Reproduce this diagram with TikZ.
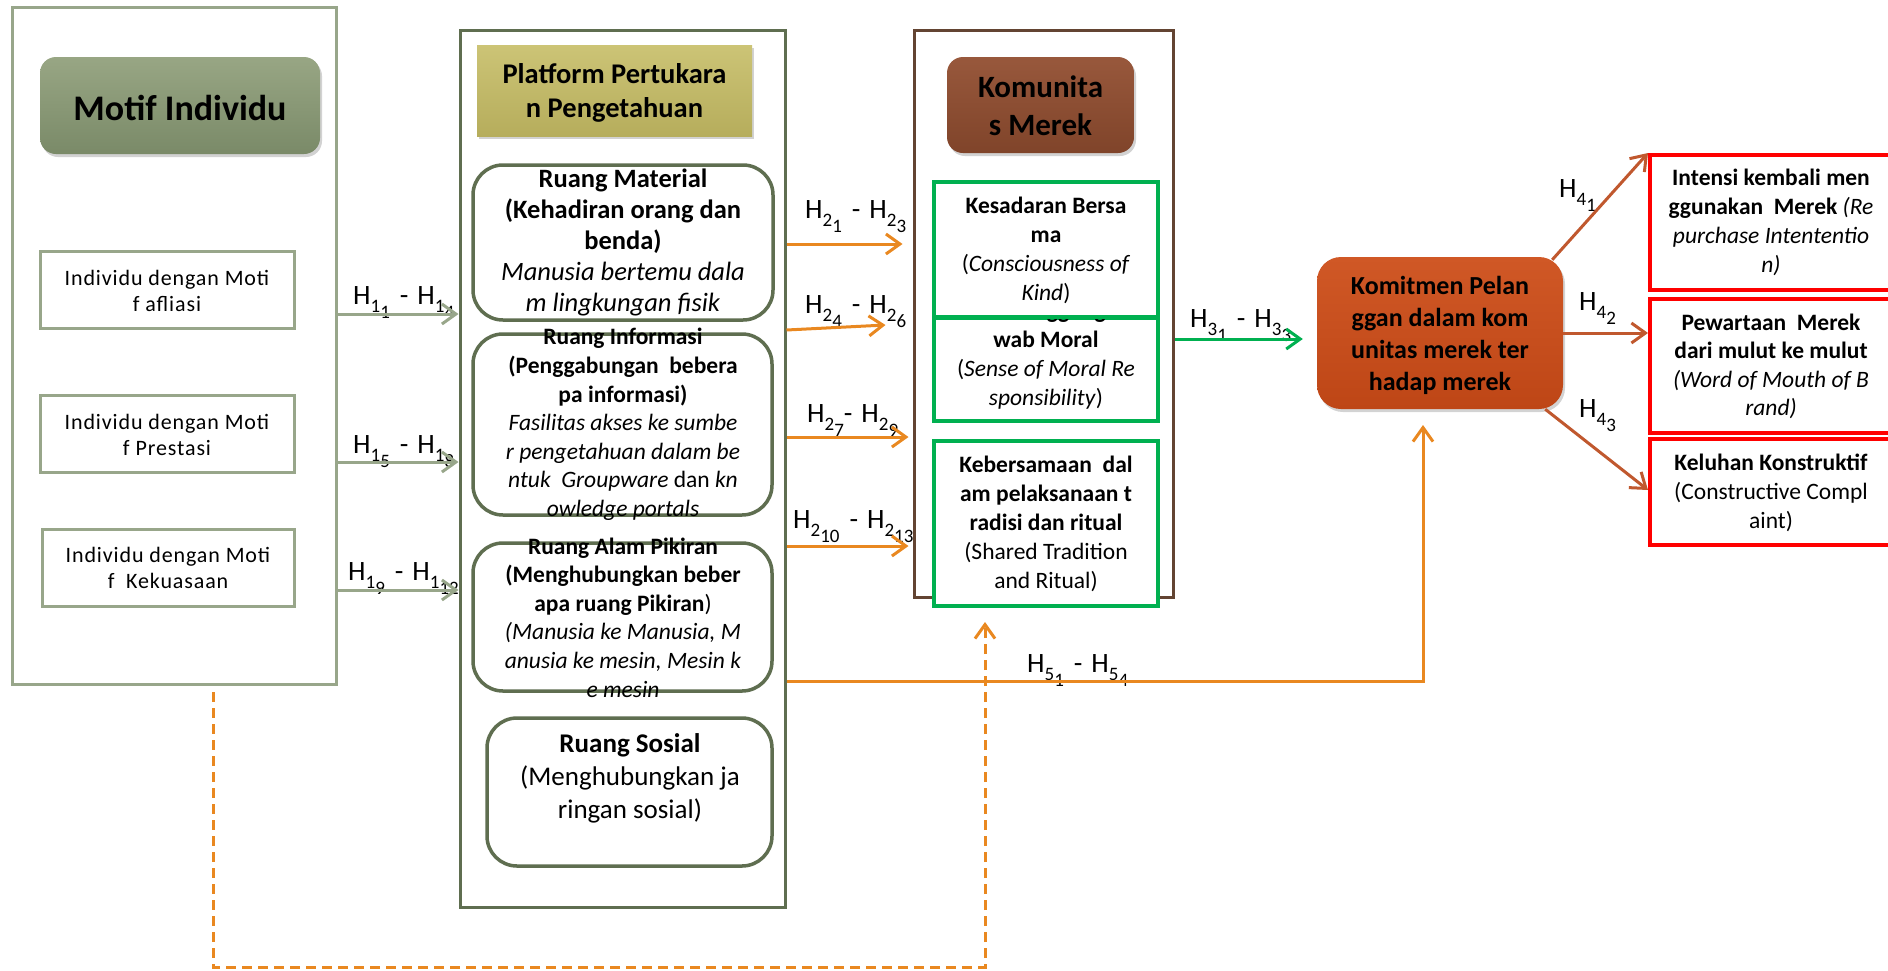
\documentclass[tikz,border=0pt]{standalone}
\usepackage{fontspec}
\setmainfont{Carlito}
\newfontfamily\wideface[LetterSpace=4]{Carlito}
\usetikzlibrary{arrows.meta,shadows}

\definecolor{sage}{RGB}{152,166,138}
\definecolor{sagehi}{RGB}{152,166,132}
\definecolor{sagelo}{RGB}{122,138,104}
\definecolor{moss}{RGB}{95,110,80}
\definecolor{olivehi}{RGB}{204,196,118}
\definecolor{olivelo}{RGB}{182,173,92}
\definecolor{bark}{RGB}{99,68,50}
\definecolor{barkhi}{RGB}{152,88,60}
\definecolor{barklo}{RGB}{128,68,42}
\definecolor{leaf}{RGB}{0,176,80}
\definecolor{rusthi}{RGB}{208,88,38}
\definecolor{rustlo}{RGB}{190,70,22}
\definecolor{rustline}{RGB}{192,88,46}
\definecolor{amber}{RGB}{233,136,32}
\definecolor{alert}{RGB}{255,0,0}

% H with a subscript and a sub-subscript
\newcommand\Hsub[2]{H\raisebox{-8pt}{\fontsize{19}{19}\selectfont#1\raisebox{-6.5pt}{#2}}}

\begin{document}
\begin{tikzpicture}[x=1pt,y=-1pt,
  plainbox/.style={draw,line width=3pt,fill=white,inner sep=0pt},
  roundbox/.style={plainbox,draw=moss,line width=3.5pt,rounded corners=30pt},
  greenbox/.style={plainbox,draw=leaf,line width=3.5pt},
  redbox/.style={plainbox,draw=alert,line width=4pt},
  headbox/.style={inner sep=0pt,drop shadow={opacity=0.35,shadow xshift=2pt,shadow yshift=-3pt}},
  txt/.style={inner sep=0pt,align=center,anchor=base},
  hlab/.style={inner sep=0pt,anchor=base west,font=\fontsize{28}{34}\selectfont},
  barbtip/.style={-{Straight Barb[length=14pt,width=20pt,line width=3pt]}},
  sagearrow/.style={barbtip,draw=sage,line width=3pt},
  amberarrow/.style={barbtip,draw=amber,line width=3pt},
  leafarrow/.style={barbtip,draw=leaf,line width=3pt},
  rustarrow/.style={barbtip,draw=rustline,line width=3pt},
  amberdash/.style={barbtip,draw=amber,line width=3pt,dash pattern=on 10pt off 6pt}
]
\useasboundingbox (0,0) rectangle (1888,970);
\clip (0,0) rectangle (1888,970);

% text nodes are placed at the baseline of their last line

% ---- individual motives column
\node[plainbox,draw=sage,minimum width=324pt,minimum height=677pt] (motifbox) at (174,345.5) {};
\node[headbox,rounded corners=16pt,minimum width=280pt,minimum height=97pt,top color=sagehi,bottom color=sagelo] (motif) at (180,105.5) {};
\node[txt,font=\fontsize{36}{43}\selectfont\bfseries] (motif-t) at (180,120) {Motif Individu};

\node[plainbox,draw=sage,minimum width=254pt,minimum height=77pt] (ind1) at (167,289.5) {};
\node[txt,font=\wideface\fontsize{22}{26}\selectfont] (ind1-t) at (167,311) {Individu dengan Moti\\f afliasi};
\node[plainbox,draw=sage,minimum width=254pt,minimum height=77pt] (ind2) at (167,433.5) {};
\node[txt,font=\wideface\fontsize{22}{26}\selectfont] (ind2-t) at (167,455) {Individu dengan Moti\\f Prestasi};
\node[plainbox,draw=sage,minimum width=252pt,minimum height=77pt] (ind3) at (168,567.5) {};
\node[txt,font=\wideface\fontsize{22}{26}\selectfont] (ind3-t) at (168,588) {Individu dengan Moti\\f\ \ Kekuasaan};

\node[hlab] (h1a) at (353,304) {\Hsub{1}{1}\hspace{10pt}-\hspace{9pt}\Hsub{1}{4}};
\node[hlab] (h1b) at (353,453) {\Hsub{1}{5}\hspace{10pt}-\hspace{9pt}\Hsub{1}{8}};
\node[hlab] (h1c) at (348,580) {\Hsub{1}{9}\hspace{10pt}-\hspace{9pt}\Hsub{1}{12}};

% ---- knowledge exchange platform
\node[plainbox,draw=moss,minimum width=325pt,minimum height=877pt] (plat) at (622.5,468.5) {};
\node[headbox,minimum width=275pt,minimum height=91pt,top color=olivehi,bottom color=olivelo] (plathead) at (614.5,90.5) {};
\node[txt,font=\fontsize{28.5}{34}\selectfont\bfseries] (plathead-t) at (614.5,117) {Platform Pertukara\\n Pengetahuan};

\node[roundbox,minimum width=300pt,minimum height=155pt] (material) at (623,242.5) {};
\node[txt,font=\fontsize{26.5}{31}\selectfont] (material-t) at (623,311)
  {\textbf{Ruang Material}\\\textbf{(Kehadiran orang dan}\\\textbf{benda)}\\\textit{Manusia bertemu dala}\\\textit{m lingkungan fisik}};

\node[roundbox,minimum width=299pt,minimum height=181pt] (info) at (622.5,424.5) {};
\node[txt,font=\fontsize{23.5}{28.6}\selectfont] (info-t) at (623,516.5)
  {\textbf{Ruang Informasi}\\\textbf{(Penggabungan\ \ bebera}\\\textbf{pa informasi)}\\\textit{Fasilitas akses ke sumbe}\\\textit{r pengetahuan dalam be}\\\textit{ntuk\ \ Groupware} dan \textit{kn}\\\textit{owledge portals}};

\node[roundbox,minimum width=299pt,minimum height=148pt] (alam) at (622.5,617) {};
\node[txt,font=\fontsize{23.5}{28.6}\selectfont] (alam-t) at (623,697)
  {\textbf{Ruang Alam Pikiran}\\\textbf{(Menghubungkan beber}\\\textbf{apa ruang Pikiran})\\\textit{(Manusia ke Manusia, M}\\\textit{anusia ke mesin, Mesin k}\\\textit{e mesin}};

\node[roundbox,minimum width=285pt,minimum height=148pt] (sosial) at (629.5,792) {};
\node[txt,font=\fontsize{27}{33}\selectfont] (sosial-t) at (630,818)
  {\textbf{Ruang Sosial}\\(Menghubungkan ja\\ringan sosial)};

\draw[sagearrow] (motifbox.east |- 0,314) -- (plat.west |- 0,314);
\draw[sagearrow] (motifbox.east |- 0,462) -- (plat.west |- 0,462);
\draw[sagearrow] (motifbox.east |- 0,590) -- (plat.west |- 0,590);

% ---- brand community
\node[plainbox,draw=bark,minimum width=259pt,minimum height=567pt] (kom) at (1043.5,313.5) {};
\node[headbox,rounded corners=16pt,minimum width=187pt,minimum height=96pt,top color=barkhi,bottom color=barklo] (komhead) at (1040.5,105) {};
\node[txt,font=\fontsize{31}{38}\selectfont\bfseries] (komhead-t) at (1040.5,135) {Komunita\\s Merek};

\node[greenbox,minimum width=224pt,minimum height=103pt] (moral) at (1046,369.5) {};
\node[txt,font=\fontsize{23.5}{29}\selectfont] (moral-t) at (1046,405)
  {\textbf{Rasa Tanggung Ja}\\\textbf{wab Moral}\\(\textit{Sense of Moral Re}\\\textit{sponsibility})};
\node[greenbox,minimum width=224pt,minimum height=135pt] (kesadaran) at (1046,249.5) {};
\node[txt,font=\fontsize{23.5}{28.7}\selectfont] (kesadaran-t) at (1046,300)
  {\textbf{Kesadaran Bersa}\\\textbf{ma}\\(\textit{Consciousness of}\\\textit{Kind})};
\node[greenbox,minimum width=224pt,minimum height=165pt] (tradisi) at (1046,523.5) {};
\node[txt,font=\fontsize{23.5}{29}\selectfont] (tradisi-t) at (1046,588)
  {\textbf{Kebersamaan\ \ dal}\\\textbf{am pelaksanaan t}\\\textbf{radisi dan ritual}\\(Shared Tradition\\and Ritual)};

\node[hlab] (h2a) at (805,218) {\Hsub{2}{1}\hspace{10pt}-\hspace{9pt}\Hsub{2}{3}};
\node[hlab] (h2b) at (805,313) {\Hsub{2}{4}\hspace{10pt}-\hspace{9pt}\Hsub{2}{6}};
\node[hlab] (h2c) at (807,422) {\Hsub{2}{7}-\hspace{9pt}\Hsub{2}{9}};
\node[hlab] (h2d) at (793,528) {\Hsub{2}{10}\hspace{10pt}-\hspace{9pt}\Hsub{2}{13}};

\draw[amberarrow] (plat.east |- 0,244) -- ([xshift=-10pt]kom.west |- 0,244);
\draw[amberarrow] (plat.east |- 0,330) -- ([xshift=-27pt]kom.west |- 0,325);
\draw[amberarrow] (plat.east |- 0,437) -- ([xshift=-4pt]kom.west |- 0,437);
\draw[amberarrow] (plat.east |- 0,546) -- ([xshift=-4pt]kom.west |- 0,546);

% ---- customer commitment and outcomes
\node[headbox,rounded corners=24pt,minimum width=246pt,minimum height=152pt,top color=rusthi,bottom color=rustlo] (komitmen) at (1440,333) {};
\node[txt,font=\fontsize{26}{31.7}\selectfont\bfseries] (komitmen-t) at (1440,390)
  {Komitmen Pelan\\ggan dalam kom\\unitas merek ter\\hadap merek};

\node[redbox,minimum width=242pt,minimum height=135pt] (rep) at (1771,222.5) {};
\node[txt,font=\fontsize{23.5}{29}\selectfont] (rep-t) at (1771,272)
  {\textbf{Intensi kembali men}\\\textbf{ggunakan\ \ Merek} \textit{(Re}\\\textit{purchase Intententio}\\\textit{n)}};
\node[redbox,minimum width=242pt,minimum height=134pt] (wom) at (1771,366) {};
\node[txt,font=\fontsize{23.5}{28.5}\selectfont] (wom-t) at (1771,415.5)
  {\textbf{Pewartaan\ \ Merek}\\\textbf{dari mulut ke mulut}\\\textit{(Word of Mouth of B}\\\textit{rand)}};
\node[redbox,minimum width=242pt,minimum height=106pt] (comp) at (1771,492) {};
\node[txt,font=\fontsize{23.5}{29}\selectfont] (comp-t) at (1771,528)
  {\textbf{Keluhan Konstruktif}\\(Constructive Compl\\aint)};

\node[hlab] (h3) at (1190,327) {\Hsub{3}{1}\hspace{10pt}-\hspace{9pt}\Hsub{3}{3}};
\draw[leafarrow] (kom.east |- 0,339) -- ([xshift=-14pt]komitmen.west |- 0,339);

\node[hlab] (h4a) at (1559,197) {\Hsub{4}{1}};
\node[hlab] (h4b) at (1579,310) {\Hsub{4}{2}};
\node[hlab] (h4c) at (1579,417) {\Hsub{4}{3}};
\draw[rustarrow] ([xshift=-11pt,yshift=-3pt]komitmen.north east) -- (rep.north west);
\draw[rustarrow] (komitmen.east |- 0,333) -- (wom.west |- 0,333);
\draw[rustarrow] ([xshift=-18pt]komitmen.south east) -- (comp.west |- 0,490);

% ---- direct paths
\node[hlab] (h5) at (1027,672) {\Hsub{5}{1}\hspace{10pt}-\hspace{9pt}\Hsub{5}{4}};
\coordinate (h5tip) at (1423,425);
\draw[amberarrow] (plat.east |- 0,681) -| (h5tip);

\coordinate (dstart) at (213,692);
\coordinate (dtip) at (985,622);
\draw[amberdash] (dstart) |- (dtip |- 0,967) -- (dtip);
\end{tikzpicture}
\end{document}
